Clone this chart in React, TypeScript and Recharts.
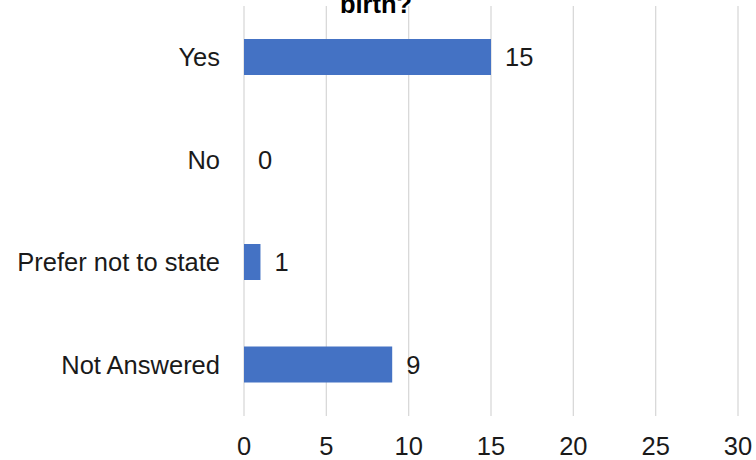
import { BarChart, Bar, XAxis, YAxis, CartesianGrid, LabelList } from 'recharts';

const categories = ['Yes', 'No', 'Prefer not to state', 'Not Answered'];
const counts = [15, 0, 1, 9];
const xTicks = [0, 5, 10, 15, 20, 25, 30];
const titleText = 'birth?';

const data = categories.map((name, i) => ({ name, count: counts[i] }));

const font = '"Liberation Sans", Arial, sans-serif';
const fs = 25.5;
const textColor = '#1a1a1a';

// drawn by hand so the zero bar still gets its "0"
const ValueLabel = (props: any) => {
  const { x, y, width, height, value } = props;
  return (
    <text x={Number(x) + Number(width) + 14} y={Number(y) + Number(height) / 2} dy="0.355em" fontSize={fs} fill={textColor} fontFamily={font}>
      {value}
    </text>
  );
};

export default function App() {
  return (
    <div style={{ position: 'absolute', left: 0, top: 0, width: 756, height: 460, overflow: 'hidden', background: '#fff' }}>
      <BarChart width={756} height={460} data={data} layout="vertical" margin={{ top: 6, right: 18, bottom: 0, left: 0 }}>
        <CartesianGrid horizontal={false} stroke="#d9d9d9" strokeWidth={1.3} />
        <XAxis
          type="number"
          domain={[0, 30]}
          ticks={xTicks}
          axisLine={false}
          tickLine={false}
          tickSize={0}
          tickMargin={21}
          height={44}
          tick={{ fontSize: fs, fill: textColor, fontFamily: font }}
        />
        <YAxis
          type="category"
          dataKey="name"
          width={244}
          axisLine={false}
          tickLine={false}
          tickSize={0}
          tickMargin={24}
          tick={{ fontSize: fs, fill: textColor, fontFamily: font }}
        />
        <Bar dataKey="count" fill="#4472c4" barSize={36} minPointSize={0.01} isAnimationActive={false}>
          <LabelList dataKey="count" content={ValueLabel} />
        </Bar>
      </BarChart>
      <svg width={756} height={30} style={{ position: 'absolute', left: 0, top: 0 }}>
        <text x={376} y={13} textAnchor="middle" fontSize={fs} fontWeight="bold" fill="#000" fontFamily={font}>
          {titleText}
        </text>
      </svg>
    </div>
  );
}
